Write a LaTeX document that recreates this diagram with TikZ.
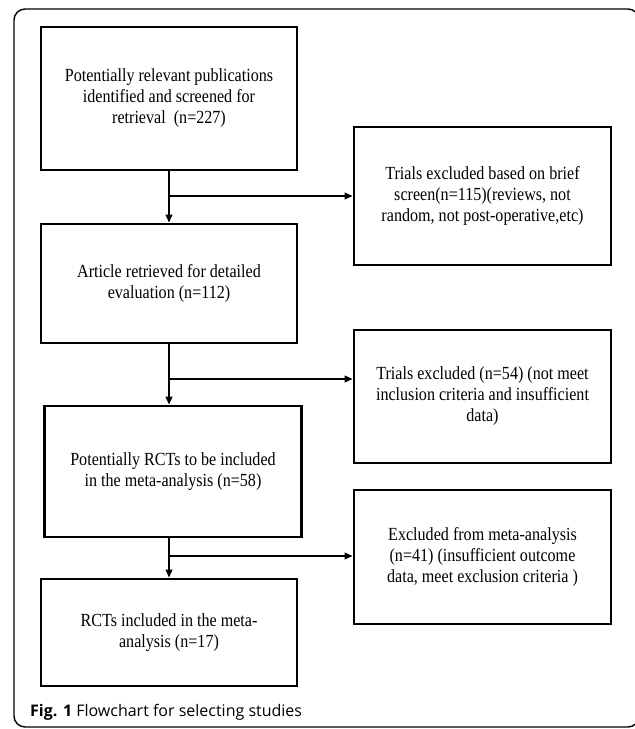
\documentclass[tikz,border=0pt]{standalone}
\usepackage{fontspec}
\setmainfont{Liberation Serif}[FakeStretch=0.87]
\newfontfamily\capfont{Open Sans}
\usepackage{tikz}
\usetikzlibrary{arrows.meta, positioning, calc}

\begin{document}
\begin{tikzpicture}[x=1pt, y=-1pt,
  box/.style={draw, line width=2.6pt, align=center, inner sep=0pt, font=\fontsize{18.5}{21}\selectfont},
  arr/.style={-{Triangle[length=8pt, width=6.5pt]}, line width=2pt},
  frame/.style={draw, line width=1.4pt, rounded corners=11pt},
]
\useasboundingbox (0,0) rectangle (635,729);
\draw[frame] (14,9) rectangle (639,727);
% main column
\node[box, minimum width=256pt, minimum height=143pt] (pub) at (169,98.5)
  {Potentially relevant publications\\identified and screened for\\retrieval~ (n=227)};
\node[box, minimum width=256pt, minimum height=119pt] (art) at (169,283.5)
  {Article retrieved for detailed\\evaluation (n=112)};
\node[box, minimum width=257pt, minimum height=131pt] (pot) at (173,471.5)
  {Potentially RCTs to be included\\in the meta-analysis (n=58)};
\node[box, minimum width=256pt, minimum height=107pt] (inc) at (169,632.5)
  {RCTs included in the meta-\\analysis (n=17)};
% excluded column
\node[box, minimum width=257pt, minimum height=138pt] (exA) at (482.5,196)
  {Trials excluded based on brief\\screen(n=115)(reviews, not\\random, not post-operative,etc)};
\node[box, minimum width=257pt, minimum height=133pt] (exB) at (482.5,396.5)
  {Trials excluded (n=54) (not meet\\inclusion criteria and insufficient\\data)};
\node[box, minimum width=257pt, minimum height=134pt] (exC) at (482.5,557)
  {Excluded from meta-analysis\\(n=41) (insufficient outcome\\data, meet exclusion criteria )};
% branch points
\coordinate (b1) at (169,196);
\coordinate (b2) at (169,379);
\coordinate (b3) at (169,556);
\draw[arr] (pub.south) -- (art.north);
\draw[arr] (art.south) -- (art.south |- pot.north);
\draw[arr] (pot.south -| inc.north) -- (inc.north);
\draw[arr] (b1) -- (exA.west |- b1);
\draw[arr] (b2) -- (exB.west |- b2);
\draw[arr] (b3) -- (exC.west |- b3);
% caption
\node[anchor=base west, inner sep=0pt, font=\capfont\fontsize{16}{19}\selectfont] (cap) at (30,716)
  {\textbf{Fig. 1} Flowchart for selecting studies};
\end{tikzpicture}
\end{document}
